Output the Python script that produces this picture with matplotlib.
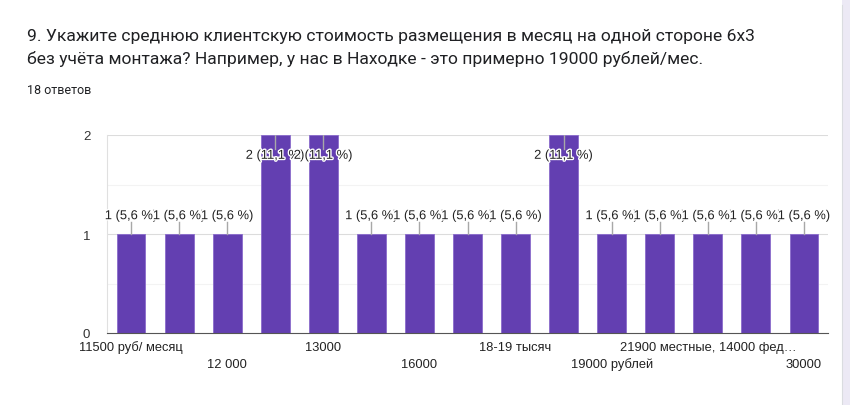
import matplotlib.pyplot as plt
import matplotlib.patheffects as pe
from matplotlib.patches import Rectangle
from matplotlib.transforms import blended_transform_factory

plt.rcParams['font.family'] = ['Roboto', 'DejaVu Sans']

categories = [
    "11500 руб/ месяц", "12000", "12 000", "13 000", "13000", "15000",
    "16000", "17000", "18-19 тысяч", "19000", "19000 рублей", "20000",
    "21900 местные, 14000 фед…", "25000", "30000",
]
counts = [1, 1, 1, 2, 2, 1, 1, 1, 1, 2, 1, 1, 1, 1, 1]
total = 18
title = ("9. Укажите среднюю клиентскую стоимость размещения в месяц на одной стороне 6х3\n"
         "без учёта монтажа? Например, у нас в Находке - это примерно 19000 рублей/мес.")
subtitle = "18 ответов"

chart_font = ['Liberation Sans', 'DejaVu Sans']

fig = plt.figure(figsize=(8.5, 4.06), dpi=100)
# page background to the right of the card
fig.patches.append(Rectangle((842 / 850, 0), 8 / 850, 1, transform=fig.transFigure,
                             facecolor="#ece9f5", edgecolor="none", zorder=0))
fig.add_artist(plt.Line2D([842 / 850, 842 / 850], [0, 0.985], transform=fig.transFigure,
                          color="#dadce0", linewidth=0.8))

fig.text(27 / 850, 1 - 48 / 406, title, fontsize=12.6, color="#202124",
         va="center", ha="left", linespacing=1.55)
fig.text(27 / 850, 1 - 90 / 406, subtitle, fontsize=9, color="#202124",
         va="center", ha="left")

ax = fig.add_axes([107 / 850, 1 - 334 / 406, (828 - 107) / 850, (334 - 136) / 406])
x = list(range(len(categories)))
ax.bar(x, counts, width=0.6, color="#633fb1", edgecolor="#8a6bcc", linewidth=0.6, zorder=2)
ax.set_xlim(-0.5, len(categories) - 0.5)
ax.set_ylim(0, 2)

for v, c in [(0.5, "#f3f3f3"), (1.5, "#f3f3f3"), (1, "#dcdcdc"), (2, "#dcdcdc")]:
    ax.axhline(v, color=c, linewidth=0.8, zorder=1)

for s in ["top", "right"]:
    ax.spines[s].set_visible(False)
ax.spines["left"].set_color("#e0e0e0")
ax.spines["bottom"].set_color("#555555")
ax.spines["bottom"].set_zorder(3)

ax.set_yticks([0, 1, 2])
ax.tick_params(axis="y", length=0, labelsize=9.5, labelcolor="#333333", pad=12)
for t in ax.get_yticklabels():
    t.set_fontfamily(chart_font)
ax.set_xticks([])

# category labels: every other one, alternating rows
tr = blended_transform_factory(ax.transData, ax.transAxes)
for i in range(0, len(categories), 2):
    row = (i // 2) % 2
    yy = -14 / 198 if row == 0 else -31 / 198
    ax.text(i, yy, categories[i], transform=tr, ha="center", va="center",
            fontsize=9.3, color="#222222", clip_on=False, family=chart_font)

# value labels with leader lines
for i, c in enumerate(counts):
    pct = c / total * 100
    lab = f"{c} ({pct:.1f} %)".replace(".", ",")
    if c == 1:
        ly, l0, l1 = 1.18, 1.0, 1.12
    else:
        ly, l0, l1 = 1.79, 2.0, 1.86
    ax.plot([i, i], [l0, l1], color="#a8a8a8", linewidth=1, zorder=3)
    ax.text(i, ly, lab, ha="center", va="center", fontsize=9.3, color="#222222",
            zorder=4 + i, clip_on=False, family=chart_font,
            path_effects=[pe.withStroke(linewidth=2, foreground="white")])

fig.savefig("out.png", dpi=100)
